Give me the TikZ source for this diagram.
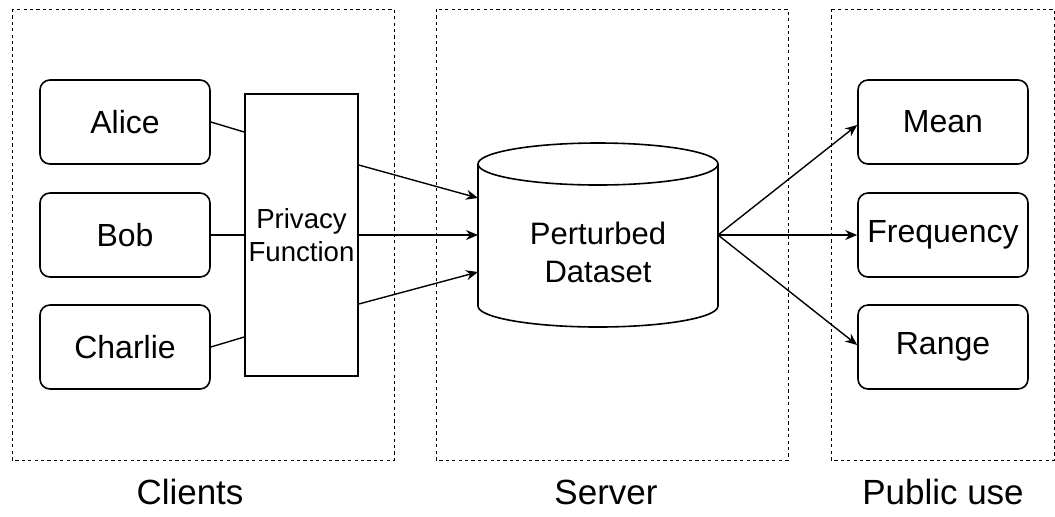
\documentclass[tikz,border=0pt]{standalone}
\usepackage{fontspec}
\setmainfont{Liberation Sans}
\usetikzlibrary{arrows.meta}
\begin{document}
\begin{tikzpicture}[x=0.5pt,y=-0.5pt,
  panel/.style={draw, dashed, dash pattern=on 1.6pt off 1.6pt, line width=0.5pt},
  client/.style={draw, rounded corners=5pt, line width=0.8pt, minimum width=85pt, minimum height=42pt, font=\fontsize{16}{19}\selectfont, inner sep=0pt},
  privbox/.style={draw, line width=0.8pt, minimum width=56.5pt, minimum height=141pt, font=\fontsize{13.8}{16.5}\selectfont, align=center, inner sep=0pt},
  link/.style={line width=0.7pt},
  flow/.style={line width=0.7pt, -{Stealth[length=6pt,width=5pt]}},
  caption/.style={font=\fontsize{17.5}{20}\selectfont}
]
\useasboundingbox (0,0) rectangle (1055,516);

% dashed panels
\draw[panel] (12,9) rectangle (394,460);
\draw[panel] (436,9) rectangle (788,460);
\draw[panel] (831,9) rectangle (1054,460);

% panel captions
\node[caption] (capC) at (190,492) {Clients};
\node[caption] (capS) at (606,492) {Server};
\node[caption] (capP) at (943,492) {Public use};

% clients
\node[client] (alice)   at (125,122) {Alice};
\node[client] (bob)     at (125,235) {Bob};
\node[client] (charlie) at (125,347) {Charlie};

% privacy function
\node[privbox] (priv) at (301.5,235) {Privacy\\Function};

% perturbed dataset (cylinder)
\node[minimum width=120pt, minimum height=71pt, inner sep=0pt, align=center,
      font=\fontsize{15.5}{19}\selectfont] (db) at (598,252) {Perturbed\\Dataset};
\coordinate (dbtop) at (598,164);
\coordinate (dbbot) at (598,306);
\draw[line width=0.8pt] ([xshift=-60pt]dbtop) -- ([xshift=-60pt]dbbot)
      arc[start angle=180, end angle=360, x radius=60pt, y radius=10.5pt]
      -- ([xshift=60pt]dbtop);
\draw[line width=0.8pt] (dbtop) ellipse [x radius=60pt, y radius=10.5pt];
\coordinate (dbin1) at (478,198);
\coordinate (dbin2) at (478,235);
\coordinate (dbin3) at (478,272);
\coordinate (dbout) at (718,235);

% public use
\node[client] (mean)  at (943,122) {Mean};
\node[client] (freq)  at (943,235) {Frequency};
\node[client] (range) at (943,347) {Range};

% clients to privacy function
\draw[link] (alice.east) -- ([yshift=51.5pt]priv.west);
\draw[link] (bob.east) -- (priv.west);
\draw[link] (charlie.east) -- ([yshift=-51pt]priv.west);

% privacy function to dataset
\draw[flow] ([yshift=35pt]priv.east) -- (dbin1);
\draw[flow] (priv.east) -- (dbin2);
\draw[flow] ([yshift=-34.5pt]priv.east) -- (dbin3);

% dataset to statistics
\draw[flow] (dbout) -- ([yshift=-1.5pt]mean.west);
\draw[flow] (dbout) -- (freq.west);
\draw[flow] (dbout) -- ([yshift=1pt]range.west);
\end{tikzpicture}
\end{document}
